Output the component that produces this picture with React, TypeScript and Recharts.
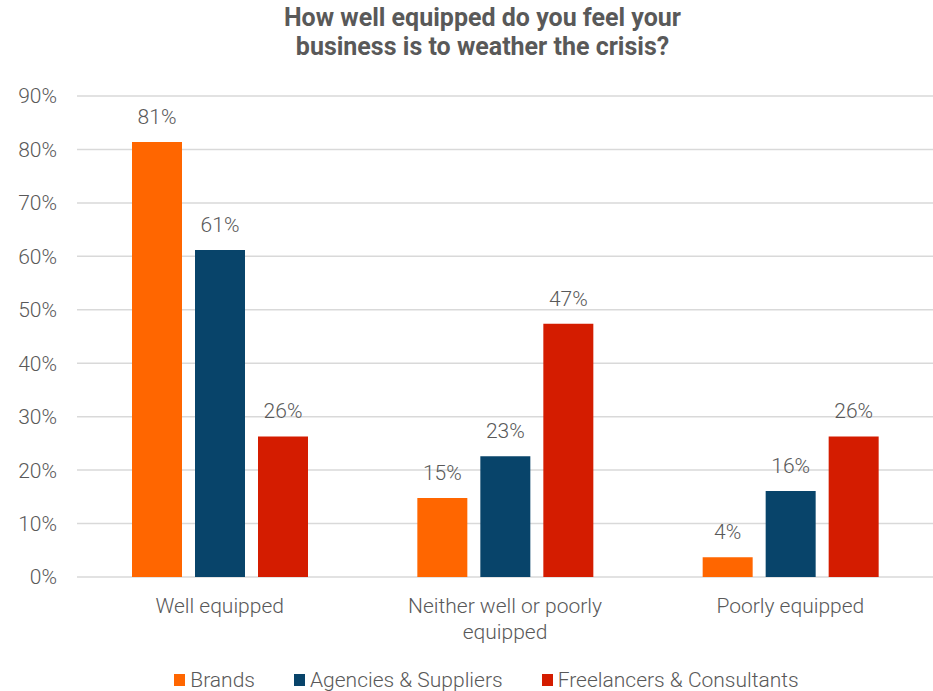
import React from 'react';
import { BarChart, Bar, XAxis, YAxis, CartesianGrid, LabelList, Legend } from 'recharts';

const categories = ['Well equipped', 'Neither well or poorly equipped', 'Poorly equipped'];
const brands = [81.4, 14.8, 3.7];
const agencies = [61.2, 22.6, 16.1];
const freelancers = [26.3, 47.4, 26.3];
const yTicks = [0, 10, 20, 30, 40, 50, 60, 70, 80, 90];
const seriesNames = ['Brands', 'Agencies & Suppliers', 'Freelancers & Consultants'];
const seriesColors = ['#FF6600', '#08446A', '#D41C00'];
const title = ['How well equipped do you feel your', 'business is to weather the crisis?'];

const data = categories.map((c, i) => ({
  name: c,
  brands: brands[i],
  agencies: agencies[i],
  freelancers: freelancers[i],
}));

const FONT = 'Roboto, "Noto Sans", sans-serif';
const GREY = '#595959';
const FS = 21;

const wrap = (s: string, max: number) => {
  const words = s.split(' ');
  const lines: string[] = [];
  let cur = '';
  words.forEach((w) => {
    const next = cur ? cur + ' ' + w : w;
    if (next.length > max && cur) {
      lines.push(cur);
      cur = w;
    } else {
      cur = next;
    }
  });
  if (cur) lines.push(cur);
  return lines;
};

const XTick = (props: any) => {
  const { x, y, payload } = props;
  const lines = wrap(String(payload.value), 22);
  return (
    <text
      x={x}
      y={y + 11}
      textAnchor="middle"
      fill={GREY}
      style={{ fontSize: FS, fontFamily: FONT, fontWeight: 300 }}
    >
      {lines.map((l, i) => (
        <tspan key={i} x={x} dy={i === 0 ? '0.8em' : 26}>
          {l}
        </tspan>
      ))}
    </text>
  );
};

const LegendContent = () => (
  <div style={{ display: 'flex', justifyContent: 'center', fontFamily: FONT, fontWeight: 300, fontSize: FS, color: GREY, paddingLeft: 40 }}>
    {seriesNames.map((n, i) => (
      <div key={n} style={{ display: 'flex', alignItems: 'center', marginRight: i < 2 ? 39 : 0 }}>
        <span style={{ display: 'inline-block', width: 11, height: 12, background: seriesColors[i], marginRight: 5 }} />
        <span>{n}</span>
      </div>
    ))}
  </div>
);

const fmt = (v: any) => `${Math.round(Number(v))}%`;

export default function App() {
  const keys = ['brands', 'agencies', 'freelancers'];
  return (
    <div style={{ position: 'absolute', left: 0, top: 0, width: 933, height: 691, overflow: 'hidden', background: '#fff' }}>
      <div style={{ position: 'absolute', left: 0, top: 3, width: 965, textAlign: 'center', fontFamily: FONT, fontWeight: 700, fontSize: 25, lineHeight: '29px', color: GREY }}>
        {title.map((t) => (
          <div key={t}>{t}</div>
        ))}
      </div>
      <BarChart
        width={933}
        height={700}
        data={data}
        margin={{ top: 96, right: 0, left: 0, bottom: 0 }}
        barCategoryGap={54}
        barGap={13}
      >
        <CartesianGrid vertical={false} stroke="#d9d9d9" strokeWidth={1.5} />
        <XAxis dataKey="name" axisLine={false} tickLine={false} tick={<XTick />} height={99} interval={0} />
        <YAxis
          domain={[0, 90]}
          ticks={yTicks}
          width={77}
          axisLine={false}
          tickLine={false}
          tickSize={0}
          tickMargin={20}
          tickFormatter={(v) => `${v}%`}
          tick={{ fontSize: FS, fontFamily: FONT, fontWeight: 300, fill: GREY }}
        />
        <Legend verticalAlign="bottom" content={<LegendContent />} wrapperStyle={{ top: 668, left: 0, width: 933 }} />
        {keys.map((k, i) => (
          <Bar key={k} dataKey={k} name={seriesNames[i]} fill={seriesColors[i]} barSize={50} isAnimationActive={false}>
            <LabelList
              dataKey={k}
              position="top"
              offset={18}
              formatter={fmt}
              style={{ fontSize: FS, fontFamily: FONT, fontWeight: 300, fill: GREY }}
            />
          </Bar>
        ))}
      </BarChart>
    </div>
  );
}
